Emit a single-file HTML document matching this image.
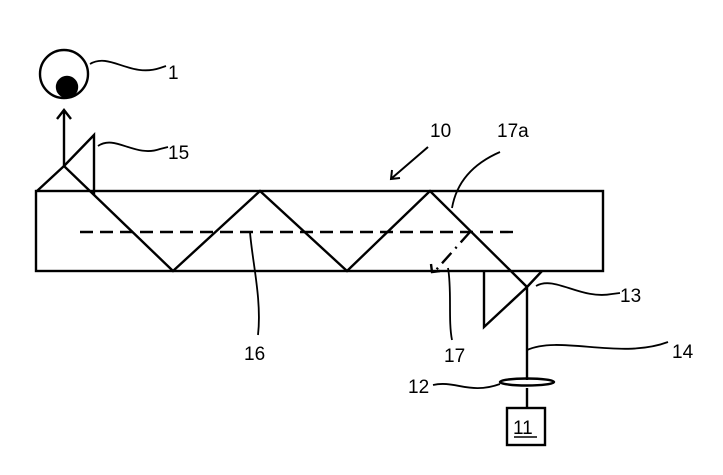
<!DOCTYPE html>
<html><head><style>body{margin:0;background:#fff}svg{display:block}text{font-family:"Liberation Sans",sans-serif;font-size:19px;fill:#000}</style></head><body>
<svg width="723" height="475" viewBox="0 0 723 475" fill="none" stroke="#000" stroke-width="2.4">
<circle cx="64" cy="74" r="24"/>
<circle cx="67" cy="87" r="10" fill="#000"/>
<path d="M90 64 C110 52,130 78,160 68 L166 66" stroke-width="1.8"/>
<text x="168" y="79" stroke="none">1</text>
<path d="M64 166 V110 M57 119 L64 110 L71 119"/>
<rect x="36" y="191" width="567" height="80"/>
<path d="M37 191 L64 166 L173 271 L260 191 L347 271 L430 191 L527 287"/>
<path d="M94 195 V135 L64 166"/>
<path d="M98 146 C115 134,135 158,160 149 L168 147" stroke-width="1.8"/>
<text x="168" y="159" stroke="none">15</text>
<path d="M80 232 H518" stroke-dasharray="13 7"/>
<path d="M470 232 L436 270" stroke-dasharray="14 6 2 6"/>
<path d="M431 264 L432 272 L440 271"/>
<path d="M452 208 C456 185,470 165,500 152" stroke-width="1.8"/>
<text x="497" y="137" stroke="none">17a</text>
<text x="430" y="137" stroke="none">10</text>
<path d="M428 147 L392 178 M392 170 L391 179 L400 178" stroke-width="2"/>
<path d="M250 232 C252 260,262 300,258 335" stroke-width="1.8"/>
<text x="244" y="360" stroke="none">16</text>
<path d="M448 268 C452 290,448 320,452 340" stroke-width="1.8"/>
<text x="444" y="362" stroke="none">17</text>
<path d="M527 287 L542 271 M484 271 V327 L527 287 M527 287 V380 M527 388 V408"/>
<path d="M536 286 C555 275,580 300,612 294 L620 293" stroke-width="1.8"/>
<text x="620" y="302" stroke="none">13</text>
<path d="M527 350 C560 335,620 360,668 342" stroke-width="1.8"/>
<text x="672" y="358" stroke="none">14</text>
<ellipse cx="527" cy="382" rx="27" ry="3.5"/>
<path d="M433 385 C455 380,470 395,500 384" stroke-width="1.8"/>
<text x="408" y="393" stroke="none">12</text>
<rect x="507" y="408" width="38" height="37"/>
<text x="513" y="434" stroke="none">11</text>
<path d="M514 437 H537" stroke-width="1.6"/>
</svg>
</body></html>
